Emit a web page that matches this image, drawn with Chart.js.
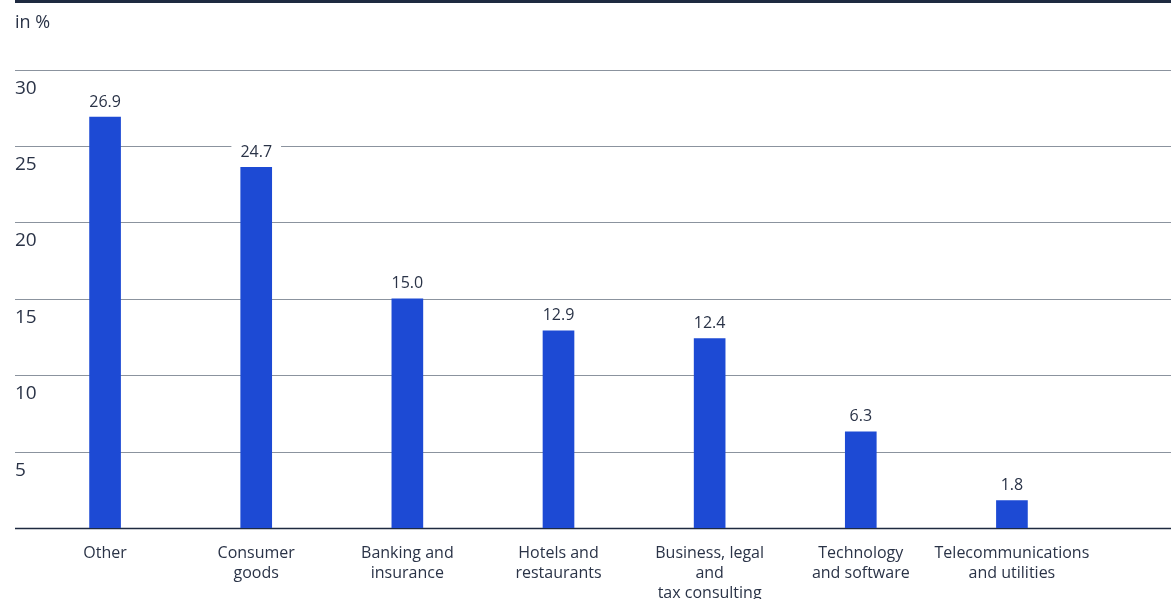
<!DOCTYPE html>
<html lang="en">
<head>
<meta charset="UTF-8">
<title>Share by sector</title>
<script src="https://cdn.jsdelivr.net/npm/chart.js@4.4.1/dist/chart.umd.min.js"></script>
<style>
  body { margin: 0; background: #fff; }
  #wrap { width: 1171px; height: 599px; }
</style>
</head>
<body>
<div id="wrap"><canvas id="myChart"></canvas></div>
<script>
const sectors = [
  ['Other'],
  ['Consumer', 'goods'],
  ['Banking and', 'insurance'],
  ['Hotels and', 'restaurants'],
  ['Business, legal', 'and', 'tax consulting'],
  ['Technology', 'and software'],
  ['Telecommunications', 'and utilities']
];
// bar heights as drawn in the source picture (its Consumer goods bar stops near 23.6)
const shares = [26.9, 23.6, 15.0, 12.9, 12.4, 6.3, 1.8];
// values printed above the bars
const printed = ['26.9', '24.7', '15.0', '12.9', '12.4', '6.3', '1.8'];
const yMin = 0, yMax = 30, yStep = 5;

const TEXT = '#2a3347';
const GRID = '#8b939e';
const DARK = '#1e2a40';
const BLUE = '#1d4ad4';
const FONT = '"Open Sans", sans-serif';

Chart.defaults.font.family = FONT;

// grid rules run past the plot area to the right edge, like the original
const rules = {
  id: 'rules',
  beforeDatasetsDraw(chart) {
    const {ctx, scales: {y}} = chart;
    ctx.save();
    ctx.fillStyle = DARK;
    ctx.fillRect(15, 0, chart.width - 15, 3);
    y.ticks.forEach(t => {
      const py = Math.round(y.getPixelForValue(t.value)) + 0.5;
      ctx.strokeStyle = t.value === 0 ? DARK : GRID;
      ctx.lineWidth = t.value === 0 ? 1.5 : 1;
      ctx.beginPath();
      ctx.moveTo(15, py);
      ctx.lineTo(chart.width, py);
      ctx.stroke();
    });
    ctx.restore();
  }
};

// value above each bar, on a white patch that cuts the grid line
const valueLabels = {
  id: 'valueLabels',
  afterDatasetsDraw(chart) {
    const {ctx} = chart;
    const meta = chart.getDatasetMeta(0);
    ctx.save();
    ctx.font = '16px ' + FONT;
    ctx.textAlign = 'center';
    ctx.textBaseline = 'middle';
    meta.data.forEach((bar, i) => {
      const txt = printed[i];
      const w = ctx.measureText(txt).width + 18;
      const cy = bar.y - 16;
      ctx.fillStyle = '#fff';
      ctx.fillRect(bar.x - w / 2, cy - 10, w, 20);
      ctx.fillStyle = TEXT;
      ctx.fillText(txt, bar.x, cy + 1);
    });
    ctx.restore();
  }
};

const ctx = document.getElementById('myChart').getContext('2d');
new Chart(ctx, {
  type: 'bar',
  data: {
    labels: sectors,
    datasets: [{
      data: shares,
      backgroundColor: BLUE,
      barThickness: 31
    }]
  },
  options: {
    responsive: true,
    maintainAspectRatio: false,
    animation: false,
    layout: { padding: { left: 15, right: 83.5, top: 0, bottom: 0 } },
    plugins: {
      legend: { display: false },
      tooltip: { enabled: false },
      title: {
        display: true,
        text: 'in %',
        align: 'start',
        color: TEXT,
        font: { size: 18, weight: 'normal' },
        padding: { top: 12, bottom: 36 }
      }
    },
    scales: {
      x: {
        afterFit(s) { s.height = 71; },
        grid: { display: false },
        border: { display: false },
        ticks: {
          color: TEXT,
          font: { size: 16, lineHeight: 1.25 },
          padding: 7,
          maxRotation: 0,
          autoSkip: false
        }
      },
      y: {
        min: yMin,
        max: yMax,
        afterFit(s) { s.width = 14.5; },
        grid: { display: false },
        border: { display: false },
        ticks: {
          stepSize: yStep,
          mirror: true,
          padding: -14.5,
          labelOffset: 18.5,
          color: TEXT,
          font: { size: 19 },
          callback: v => v === 0 ? '' : v
        }
      }
    }
  },
  plugins: [rules, valueLabels]
});
</script>
</body>
</html>
